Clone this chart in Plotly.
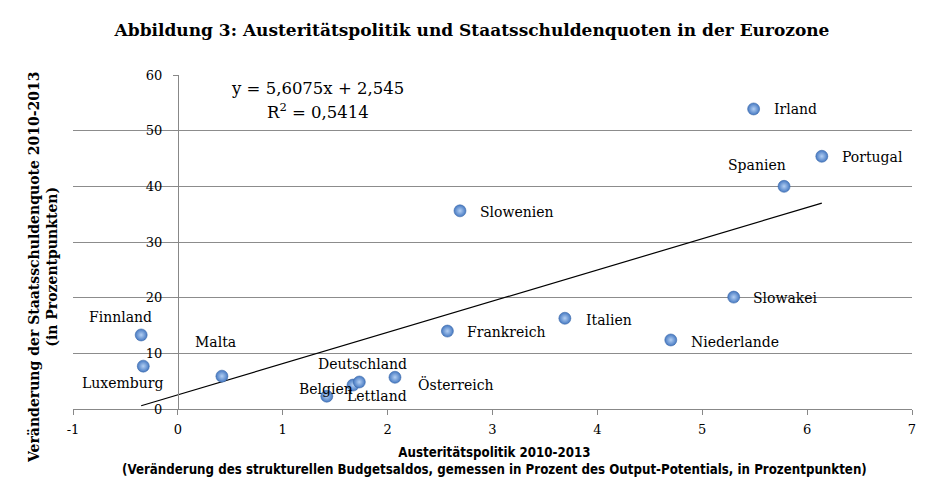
import plotly.graph_objects as go

countries = ["Finnland", "Luxemburg", "Malta", "Belgien", "Lettland", "Deutschland",
             "Österreich", "Frankreich", "Slowenien", "Italien", "Niederlande",
             "Slowakei", "Spanien", "Irland", "Portugal"]
austerity = [-0.35, -0.33, 0.42, 1.42, 1.67, 1.73, 2.07, 2.57, 2.69, 3.69, 4.70, 5.30, 5.78, 5.49, 6.14]
debt_change = [13.3, 7.7, 5.9, 2.3, 4.3, 4.85, 5.7, 14.0, 35.6, 16.3, 12.4, 20.1, 40.0, 53.9, 45.4]

trend_slope = 5.6075
trend_intercept = 2.545
r_squared = 0.5414

x_ticks = [-1, 0, 1, 2, 3, 4, 5, 6, 7]
x_tick_labels = ["-1", "0", "1", "2", "3", "4", "5", "6", "7"]
y_ticks = [0, 10, 20, 30, 40, 50, 60]

# label placement styles (pixel offsets, anchors)
label_style = {
    "Finnland": (-21, 18, "center"),
    "Luxemburg": (-21, -17, "center"),
    "Malta": (-6, 34, "center"),
    "Belgien": (-1, 7, "center"),
    "Lettland": (-8, -11, "left"),
    "Deutschland": (3, 18, "center"),
    "Österreich": (21, -7, "left"),
    "Frankreich": (18, -1, "left"),
    "Slowenien": (18, -1, "left"),
    "Italien": (19, -2, "left"),
    "Niederlande": (18, -2, "left"),
    "Slowakei": (17, -1, "left"),
    "Spanien": (-27, 21, "center"),
    "Irland": (18, 0, "left"),
    "Portugal": (18, -1, "left"),
}

SERIF = "DejaVu Serif"
fig = go.Figure()

x0, x1 = min(austerity), max(austerity)
fig.add_trace(go.Scatter(
    x=[x0, x1], y=[trend_slope * x0 + trend_intercept, trend_slope * x1 + trend_intercept],
    mode="lines", line=dict(color="black", width=1.2), hoverinfo="skip", showlegend=False))

fig.add_trace(go.Scatter(
    x=austerity, y=debt_change, mode="markers", text=countries, showlegend=False,
    marker=dict(size=12, color="#4679C2",
                gradient=dict(type="radial", color="#B3CFF3"),
                line=dict(color="#3D6AAA", width=0.6))))

annotations = []
for c, xv, yv in zip(countries, austerity, debt_change):
    dx, dy, anc = label_style[c]
    annotations.append(dict(x=xv, y=yv, xref="x", yref="y", text=c, showarrow=False,
                            xshift=dx, yshift=dy, xanchor=anc,
                            font=dict(family=SERIF, size=14, color="black")))

eq_text = "y = " + str(trend_slope).replace(".", ",") + "x + " + str(trend_intercept).replace(".", ",")
annotations.append(dict(x=(317 - 73) / 839, y=(409 - 88) / 334, xref="paper", yref="paper",
                        text=eq_text, showarrow=False, xanchor="center", yanchor="middle",
                        font=dict(family=SERIF, size=16.5, color="black")))
annotations.append(dict(x=(318 - 73) / 839, y=(409 - 111) / 334, xref="paper", yref="paper",
                        text="R<sup>2</sup> = " + str(r_squared).replace(".", ","), showarrow=False,
                        xanchor="center", yanchor="middle",
                        font=dict(family=SERIF, size=16.5, color="black")))

# axis titles
annotations.append(dict(x=(494 - 73) / 839, y=(409 - 461) / 334, xref="paper", yref="paper",
                        text="<b>Austeritätspolitik 2010-2013<br>(Veränderung des strukturellen Budgetsaldos, gemessen in Prozent des Output-Potentials, in Prozentpunkten)</b>",
                        showarrow=False, xanchor="center", yanchor="middle",
                        font=dict(family="DejaVu Sans Condensed", size=13.2, color="black")))
annotations.append(dict(x=(43 - 73) / 839, y=(409 - 268) / 334, xref="paper", yref="paper",
                        text="<b>Veränderung der Staatsschuldenquote 2010-2013<br>(in Prozentpunkten)</b>",
                        showarrow=False, xanchor="center", yanchor="middle", textangle=-90,
                        font=dict(family=SERIF, size=14, color="black")))

fig.update_layout(
    width=944, height=496,
    margin=dict(l=73, r=32, t=75, b=87),
    paper_bgcolor="white", plot_bgcolor="white",
    title=dict(text="<b>Abbildung 3: Austeritätspolitik und Staatsschuldenquoten in der Eurozone</b>",
               x=0.5, xanchor="center", y=1 - 30 / 496, yanchor="middle",
               font=dict(family=SERIF, size=17, color="black")),
    annotations=annotations,
    xaxis=dict(range=[-1, 7], tickvals=x_ticks, ticktext=x_tick_labels, showgrid=False, zeroline=False,
               showline=True, linecolor="#888888", linewidth=1,
               ticks="outside", ticklen=5, tickcolor="#888888", ticklabelstandoff=3,
               tickfont=dict(family=SERIF, size=13, color="black")),
    yaxis=dict(range=[0, 60], tickvals=y_ticks, anchor="free", position=1 / 8,
               showgrid=True, gridcolor="#8C8C8C", gridwidth=1, zeroline=False,
               showline=True, linecolor="#888888", linewidth=1,
               ticks="outside", ticklen=5, tickcolor="#888888", ticklabelstandoff=8,
               tickfont=dict(family=SERIF, size=13, color="black")),
)

fig.write_html("out.html", config={"displayModeBar": False},
               post_script="document.body.style.margin='0';document.body.style.overflow='hidden';")
